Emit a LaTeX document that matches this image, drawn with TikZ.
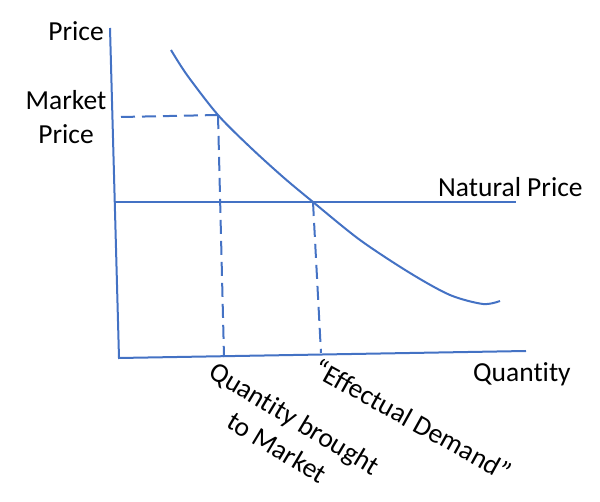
\documentclass[tikz,border=0pt]{standalone}
\usepackage{fontspec}
\setmainfont{Carlito}[Ligatures={NoCommon,NoRequired,NoContextual}]
\definecolor{lineblue}{RGB}{68,114,196}
\begin{document}
\begin{tikzpicture}[x=1pt,y=-1pt,
  axis/.style={draw=lineblue,line width=2pt},
  guide/.style={draw=lineblue,line width=2pt,dash pattern=on 14pt off 7pt},
  lbl/.style={inner sep=0pt,font=\fontsize{27.5}{34}\selectfont,text=black}]
\useasboundingbox (0,0) rectangle (600,502);
\coordinate (ytop) at (110,28);
\coordinate (origin) at (119,358);
\coordinate (xend) at (526,351);
\coordinate (npl) at (115,202);
\coordinate (npr) at (516,202);
\coordinate (mpl) at (121,117);
\coordinate (mp) at (218,115);
\coordinate (np) at (313,202);
\coordinate (qm) at (224,357);
\coordinate (qe) at (321,353);
% axes
\draw[axis] (ytop) -- (origin) -- (xend);
% natural price line
\draw[axis] (npl) -- (npr);
% demand curve
\draw[axis] plot[smooth,tension=0.5] coordinates {(171,50) (187,75) (218,115) (250,147) (283,177) (313,202) (360,240) (410,273) (450,295) (483,304) (500,301)};
% dashed guides
\draw[guide] (mpl) -- (mp);
\draw[guide] (mp) -- (qm);
\draw[guide] (np) -- (qe);
% labels
\node[lbl,anchor=base east] (price) at (104,41) {Price};
\node[lbl,anchor=center,align=center] (market) at (66,117) {Market\\Price};
\node[lbl,anchor=base west] (natural) at (438,197) {Natural Price};
\node[lbl,anchor=base west] (qty) at (473,382) {Quantity};
\node[lbl,anchor=north west,rotate=-31,align=center] (qbm) at (217,360) {Quantity brought\\to Market};
\node[lbl,anchor=north west,rotate=-29] (eff) at (321,357) {“Effectual Demand”};
\end{tikzpicture}
\end{document}
